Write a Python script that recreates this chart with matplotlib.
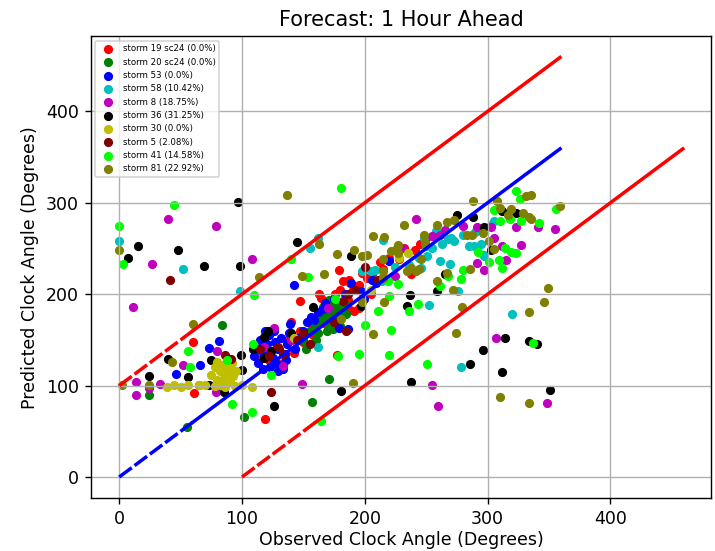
import matplotlib
matplotlib.use("Agg")
import matplotlib.pyplot as plt
import numpy as np

title = "Forecast: 1 Hour Ahead"
labels = ["storm 19 sc24 (0.0%)", "storm 20 sc24 (0.0%)", "storm 53 (0.0%)", "storm 58 (10.42%)",
          "storm 8 (18.75%)", "storm 36 (31.25%)", "storm 30 (0.0%)", "storm 5 (2.08%)",
          "storm 41 (14.58%)", "storm 81 (22.92%)"]
colors = ["r", "g", "b", "c", "m", "k", "y", "maroon", "lime", "olive"]

# storm 19 sc24
s19_obs = [60, 61, 119, 147, 163, 164, 179, 182, 187, 188, 198, 212, 241, 238, 186, 188, 191, 177,
           115, 122, 128, 133, 138, 142, 147, 150, 155, 158, 162, 167, 170, 173, 176, 180, 184, 190,
           195, 202, 206, 215, 220, 228, 232, 245, 250, 205, 195, 140]
s19_pred = [148, 92, 63, 193, 200, 196, 227, 214, 216, 212, 223, 235, 248, 222, 194, 183, 182, 133,
            130, 128, 140, 125, 150, 136, 160, 148, 168, 155, 175, 168, 190, 178, 200, 205, 190, 205,
            210, 218, 222, 228, 240, 238, 250, 255, 262, 200, 185, 170]
# storm 20 sc24
s20_obs = [84, 24, 55, 102, 157, 171, 168, 170, 172, 173, 174, 175, 176, 177, 178, 170, 169, 171,
           174, 176, 179, 172, 167, 175, 180, 178, 165, 166, 173, 177, 181, 169, 171, 164,
           150, 155, 160, 162, 158, 183, 185, 163, 160, 152]
s20_pred = [166, 90, 55, 66, 82, 107, 172, 178, 165, 185, 170, 180, 175, 168, 183, 168, 182, 174,
            162, 186, 172, 190, 180, 192, 165, 178, 175, 186, 176, 190, 182, 160, 194, 170,
            150, 160, 165, 158, 172, 190, 178, 180, 150, 140]
# storm 53
s53_obs = [81, 73, 66, 46, 142, 166, 159, 139, 129, 189, 197, 199, 206, 209, 220, 179, 186,
           112, 115, 118, 120, 122, 125, 127, 130, 132, 135, 137, 113, 117, 123, 128, 133, 136,
           140, 138, 126, 119, 110, 143, 146, 150, 153, 156, 162, 168, 175, 184]
s53_pred = [149, 141, 123, 113, 210, 184, 172, 167, 116, 212, 203, 195, 216, 212, 236, 163, 162,
            140, 150, 135, 145, 155, 130, 148, 140, 152, 135, 145, 125, 118, 120, 125, 118, 128,
            150, 158, 160, 160, 132, 140, 152, 160, 170, 175, 180, 190, 195, 200]
# storm 58
s58_obs = [0, 52, 98, 320, 278, 155, 162, 162, 215, 214, 208, 198, 246, 251, 248, 250, 252, 276,
           297, 295, 285, 289, 258, 262, 268, 273, 261, 269, 303, 297, 205,
           225, 236, 244, 255, 263, 270, 280, 290, 305, 318]
s58_pred = [258, 228, 203, 178, 120, 251, 261, 142, 259, 214, 227, 225, 229, 242, 262, 253, 188, 203,
            243, 255, 253, 253, 269, 267, 260, 258, 236, 233, 276, 242, 225,
            230, 232, 240, 250, 255, 262, 265, 268, 280, 290]
# storm 8
s8_obs = [40, 79, 27, 11, 108, 307, 255, 260, 348, 80, 52, 14, 14, 24, 33, 65, 79, 149, 133, 126,
          242, 255, 261, 291, 303, 323, 341, 355, 312, 327, 315, 297, 291, 225,
          140, 118, 170, 230, 265, 280, 305]
s8_pred = [282, 275, 233, 186, 238, 152, 101, 78, 81, 138, 122, 104, 90, 97, 102, 101, 93, 102, 121, 163,
           282, 264, 265, 273, 274, 273, 273, 271, 253, 254, 237, 227, 234, 220,
           150, 142, 185, 250, 270, 275, 262]
# storm 36
s36_obs = [97, 15, 7, 48, 69, 98, 145, 314, 296, 334, 340, 286, 312, 238, 351,
           40, 75, 99, 100, 24, 56, 73, 85, 126, 118, 124, 118, 121, 140, 109, 158, 181, 189, 197,
           237, 234, 259, 265, 275, 312, 323, 288, 297, 303]
s36_pred = [301, 253, 240, 248, 231, 231, 257, 152, 139, 149, 145, 124, 115, 104, 95,
            129, 128, 133, 117, 111, 109, 101, 93, 78, 153, 138, 130, 160, 158, 140, 186, 94, 242, 187,
            199, 187, 203, 222, 287, 291, 289, 284, 274, 248]
# storm 30
s30_obs = [39, 45, 50, 56, 108, 235, 75, 78, 80, 82, 84, 85, 87, 88, 90, 91, 93, 94, 83, 78, 86,
           92, 80, 95, 70, 65, 100, 142, 205, 215, 228]
s30_pred = [98, 101, 98, 101, 99, 245, 112, 120, 106, 116, 122, 108, 114, 124, 104, 118, 110, 100, 101, 100, 98,
            125, 126, 116, 101, 101, 101, 152, 205, 220, 240]
# storm 5
s5_obs = [41, 86, 91, 124, 129, 155, 133, 185, 182, 186, 200, 211, 115, 122, 145, 150, 175, 192]
s5_pred = [216, 134, 129, 93, 142, 146, 135, 160, 193, 200, 230, 216, 140, 132, 150, 158, 170, 205]
# storm 41
s41_obs = [45, 0, 3, 181, 337, 251, 164, 140, 110, 154, 176, 109, 56, 58, 88, 92, 108, 124, 178, 195,
           220, 200, 221, 211, 220, 236, 243, 261, 268, 278, 280, 292, 301, 309, 312, 314, 319, 323,
           305, 310, 318, 327, 342, 323, 326, 356, 219, 227]
s41_pred = [298, 275, 233, 316, 147, 124, 61, 239, 199, 219, 195, 146, 138, 120, 128, 80, 71, 112, 132, 135,
            134, 166, 161, 182, 198, 182, 189, 209, 220, 217, 226, 246, 235, 237, 229, 251, 246, 245,
            292, 280, 282, 280, 278, 313, 304, 293, 214, 211]
# storm 81
s81_obs = [137, 0, 349, 346, 334, 274, 310, 334, 114, 60, 2, 24, 43, 149, 163, 167, 177, 190, 207, 216,
           279, 181, 198, 191, 198, 202, 215, 207, 216, 227, 226, 232, 248, 249, 259, 267, 273, 288,
           308, 331, 335, 359, 310, 317, 319, 329, 334, 335, 283, 287, 296, 301, 305, 286, 272, 267,
           259, 234, 238, 242, 244, 246, 215, 215, 221, 227]
s81_pred = [309, 248, 207, 192, 180, 158, 88, 81, 219, 167, 101, 101, 126, 220, 255, 222, 244, 103, 156, 191,
            186, 173, 191, 248, 242, 243, 238, 264, 263, 254, 250, 276, 265, 256, 276, 279, 281, 302,
            302, 307, 308, 297, 294, 287, 293, 289, 285, 282, 265, 265, 267, 258, 249, 228, 205, 223,
            214, 225, 229, 225, 228, 238, 225, 218, 247, 245]

observed = [s19_obs, s20_obs, s53_obs, s58_obs, s8_obs, s36_obs, s30_obs, s5_obs, s41_obs, s81_obs]
predicted = [s19_pred, s20_pred, s53_pred, s58_pred, s8_pred, s36_pred, s30_pred, s5_pred, s41_pred, s81_pred]
band = 100
sparse_until = 60  # below this the reference lines look broken/dashed

fig = plt.figure(figsize=(715 / 125, 551 / 125), dpi=125)
ax = fig.add_axes([0.1273, 0.0962, 0.8671, 0.8376])

for obs, pred, color, label in zip(observed, predicted, colors, labels):
    ax.scatter(obs, pred, s=20, color=color, label=label, linewidths=0.8)

all_obs = np.sort(np.concatenate([np.array(o, dtype=float) for o in observed]))
lo = np.array([all_obs.min(), sparse_until])
hi = np.array([sparse_until, all_obs.max()])
dash = (4.5, 1.0)
ax.plot(lo, lo, color="b", lw=2, dashes=dash)
ax.plot(hi, hi, color="b", lw=2)
ax.plot(lo, lo + band, color="r", lw=2, dashes=dash)
ax.plot(hi, hi + band, color="r", lw=2)
ax.plot(lo + band, lo, color="r", lw=2, dashes=dash)
ax.plot(hi + band, hi, color="r", lw=2)

ax.set_title(title)
ax.set_xlabel("Observed Clock Angle (Degrees)", labelpad=1.5)
ax.set_ylabel("Predicted Clock Angle (Degrees)")
ax.grid(True)
ax.legend(loc="upper left", fontsize=5)

fig.savefig("out.png", dpi=125)
